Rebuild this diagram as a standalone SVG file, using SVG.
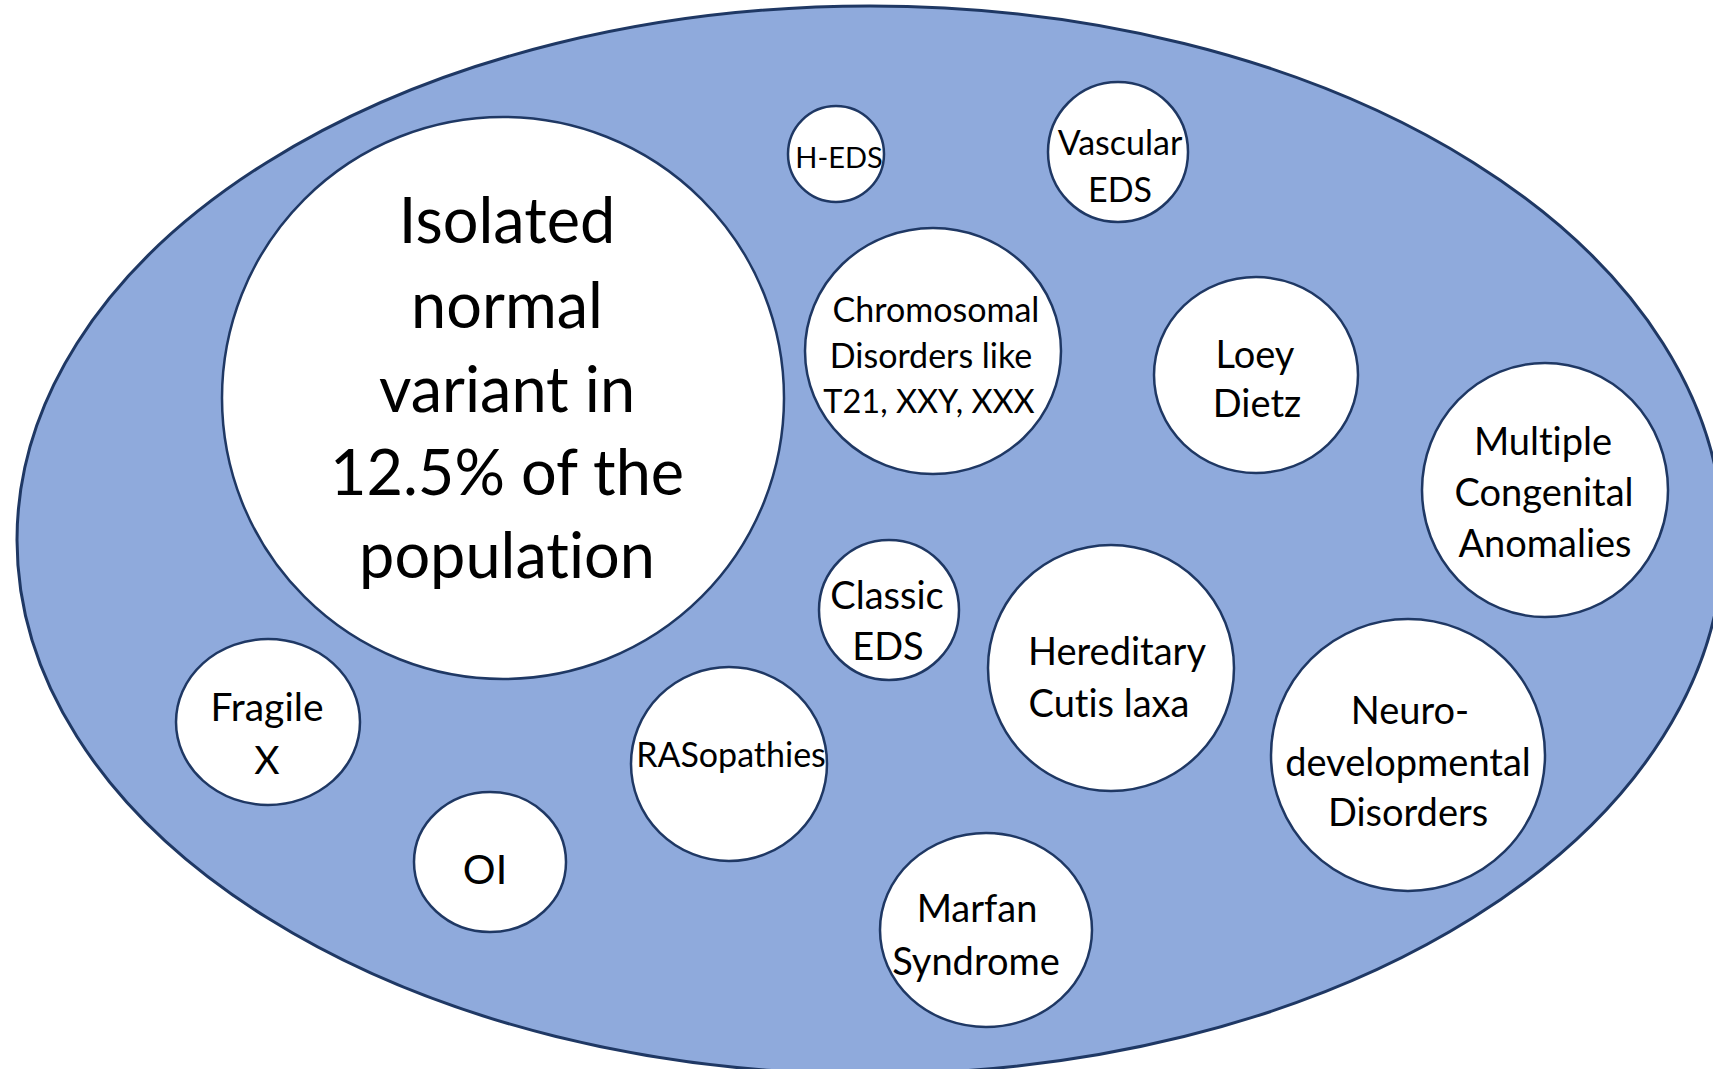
<svg xmlns="http://www.w3.org/2000/svg" width="1713" height="1069" viewBox="0 0 1713 1069">
<style>
.bg{fill:#8faadc;stroke:#1f3864;stroke-width:3}
.c{fill:#ffffff;stroke:#1f3864;stroke-width:2.5}
.t{font-family:Lato,"Liberation Sans",sans-serif;text-anchor:middle;fill:#000000;font-variant-ligatures:none}
</style>
<rect width="1713" height="1069" fill="#ffffff"/>
<g id="population">
<ellipse class="bg" cx="870" cy="540" rx="853" ry="534"/>
</g>
<g id="isolated">
<circle class="c" cx="503" cy="398" r="281"/>
<text class="t" font-size="63"><tspan x="507" y="243">Isolated</tspan><tspan x="507" y="328">normal</tspan><tspan x="507" y="412">variant in</tspan><tspan x="507" y="495">12.5% of the</tspan><tspan x="507" y="578">population</tspan></text>
</g>
<g id="h-eds">
<circle class="c" cx="836" cy="154" r="48"/>
<text class="t" font-size="29" x="839" y="168">H-EDS</text>
</g>
<g id="vascular-eds">
<circle class="c" cx="1118" cy="152" r="70"/>
<text class="t" font-size="34"><tspan x="1120" y="155">Vascular</tspan><tspan x="1120" y="202">EDS</tspan></text>
</g>
<g id="chromosomal">
<ellipse class="c" cx="933" cy="351" rx="128" ry="123"/>
<text class="t" font-size="34"><tspan x="936" y="322">Chromosomal</tspan><tspan x="931" y="368">Disorders like</tspan><tspan x="929" y="413" font-size="32.5">T21, XXY, XXX</tspan></text>
</g>
<g id="loey-dietz">
<ellipse class="c" cx="1256" cy="375" rx="102" ry="98"/>
<text class="t" font-size="38"><tspan x="1255" y="368">Loey</tspan><tspan x="1257" y="417">Dietz</tspan></text>
</g>
<g id="multiple-congenital">
<ellipse class="c" cx="1545" cy="490" rx="123" ry="127"/>
<text class="t" font-size="38"><tspan x="1543" y="455">Multiple</tspan><tspan x="1544" y="506">Congenital</tspan><tspan x="1545" y="557">Anomalies</tspan></text>
</g>
<g id="neurodevelopmental">
<ellipse class="c" cx="1408" cy="755" rx="137" ry="136"/>
<text class="t" font-size="38"><tspan x="1410" y="724">Neuro-</tspan><tspan x="1408" y="776">developmental</tspan><tspan x="1408" y="826">Disorders</tspan></text>
</g>
<g id="cutis-laxa">
<circle class="c" cx="1111" cy="668" r="123"/>
<text class="t" font-size="38"><tspan x="1117" y="665">Hereditary</tspan><tspan x="1109" y="717">Cutis laxa</tspan></text>
</g>
<g id="classic-eds">
<circle class="c" cx="889" cy="610" r="70"/>
<text class="t" font-size="38"><tspan x="887" y="609">Classic</tspan><tspan x="888" y="660">EDS</tspan></text>
</g>
<g id="marfan">
<ellipse class="c" cx="986" cy="930" rx="106" ry="97"/>
<text class="t" font-size="38"><tspan x="977" y="922">Marfan</tspan><tspan x="976" y="975">Syndrome</tspan></text>
</g>
<g id="rasopathies">
<ellipse class="c" cx="729" cy="764" rx="98" ry="97"/>
<text class="t" font-size="34" x="731" y="767">RASopathies</text>
</g>
<g id="oi">
<ellipse class="c" cx="490" cy="862" rx="76" ry="70"/>
<text class="t" font-size="41" x="485" y="884">OI</text>
</g>
<g id="fragile-x">
<ellipse class="c" cx="268" cy="722" rx="92" ry="83"/>
<text class="t" font-size="39"><tspan x="267" y="721">Fragile</tspan><tspan x="267" y="774">X</tspan></text>
</g>
<g id="connectors"></g>
</svg>
